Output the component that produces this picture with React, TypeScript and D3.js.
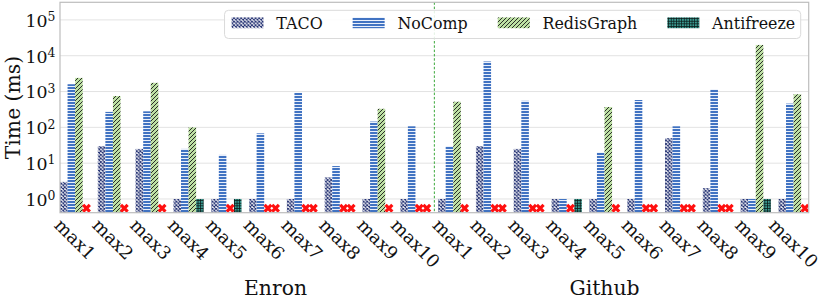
import React, { useEffect, useRef } from 'react';
import * as d3 from 'd3';

const queries = ['max1', 'max2', 'max3', 'max4', 'max5', 'max6', 'max7', 'max8', 'max9', 'max10'];
const datasets = ['Enron', 'Github'];
const systems = ['TACO', 'NoComp', 'RedisGraph', 'Antifreeze'];

const tacoEnron = [3, 30, 25, 1, 1, 1, 1, 4, 1, 1];
const tacoGithub = [1, 30, 25, 1, 1, 1, 50, 2, 1, 1];
const noCompEnron = [1600, 270, 280, 25, 17, 68, 920, 8.3, 145, 107];
const noCompGithub = [30, 6900, 550, 1, 20, 580, 107, 1150, 1, 460];
const redisEnron: (number | null)[] = [2400, 750, 1750, 100, null, null, null, null, 330, null];
const redisGithub: (number | null)[] = [520, null, null, null, 370, null, null, null, 20000, 840];
const antiEnron: (number | null)[] = [null, null, null, 1, 1, null, null, null, null, null];
const antiGithub: (number | null)[] = [null, null, null, 1, null, null, null, null, 1, null];

const yTicks = [1, 10, 100, 1000, 10000, 100000];
const yTickExp = ['0', '1', '2', '3', '4', '5'];
const MISSING_Y = 0.55;
const datasetLabelPos = [5.3, 14.0];

const FONT = "'DejaVu Serif', 'Liberation Serif', serif";

export default function App() {
  const ref = useRef<SVGSVGElement>(null);
  useEffect(() => {
    document.body.style.margin = '0';
    const svg = d3.select(ref.current as SVGSVGElement);
    svg.selectAll('*').remove();

    const probe = svg.append('text').style('font-family', FONT).style('font-size', '16px').text('RedisGraph');
    const pw = (probe.node() as SVGTextElement).getComputedTextLength();
    probe.remove();
    const kRaw = pw > 0 ? 94.4 / pw : 1;
    const k = Math.max(0.9, Math.min(1.2, 1 + (kRaw - 1) * 0.6));

    const left = 60, right = 808.7, top = 2.3, bottom = 212.7;
    const nQ = queries.length;
    const nGroups = datasets.length * nQ;
    const x = d3.scaleLinear().domain([-0.4, nGroups - 0.6]).range([left, right]);
    const y = d3.scaleLog().domain([0.414, 3.1e5]).range([bottom, top]);

    const series = [
      { name: systems[0], values: [...tacoEnron, ...tacoGithub], fill: 'url(#p-taco)' },
      { name: systems[1], values: [...noCompEnron, ...noCompGithub], fill: 'url(#p-nocomp)' },
      { name: systems[2], values: [...redisEnron, ...redisGithub], fill: 'url(#p-redis)' },
      { name: systems[3], values: [...antiEnron, ...antiGithub], fill: 'url(#p-anti)' },
    ];
    const offsets = [-0.3, -0.1, 0.1, 0.3];
    const bw = 0.2;

    const defs = svg.append('defs');
    const pt = defs.append('pattern').attr('id', 'p-taco').attr('patternUnits', 'userSpaceOnUse')
      .attr('width', 3.6).attr('height', 3.6);
    pt.append('rect').attr('width', 3.6).attr('height', 3.6).attr('fill', '#ffffff');
    pt.append('path').attr('d', 'M0,0L3.6,3.6M3.6,0L0,3.6').attr('stroke', '#1c2a6e').attr('stroke-width', 0.95);
    const pn = defs.append('pattern').attr('id', 'p-nocomp').attr('patternUnits', 'userSpaceOnUse')
      .attr('width', 4).attr('height', 3);
    pn.append('rect').attr('width', 4).attr('height', 3).attr('fill', '#4173c2');
    pn.append('rect').attr('y', 2).attr('width', 4).attr('height', 1).attr('fill', '#eaf0fb');
    const pr = defs.append('pattern').attr('id', 'p-redis').attr('patternUnits', 'userSpaceOnUse')
      .attr('width', 4).attr('height', 4);
    pr.append('rect').attr('width', 4).attr('height', 4).attr('fill', '#bde0a4');
    pr.append('path').attr('d', 'M0,4L4,0M-1,1L1,-1M3,5L5,3').attr('stroke', '#1a1a1a').attr('stroke-width', 0.9);
    const pa = defs.append('pattern').attr('id', 'p-anti').attr('patternUnits', 'userSpaceOnUse')
      .attr('width', 2.6).attr('height', 2.6);
    pa.append('rect').attr('width', 2.6).attr('height', 2.6).attr('fill', '#3a9990');
    pa.append('path').attr('d', 'M0.4,0V2.6M0,0.4H2.6').attr('stroke', '#0a1a18').attr('stroke-width', 0.8);

    defs.append('clipPath').attr('id', 'plotclip').append('rect')
      .attr('x', left).attr('y', top).attr('width', right - left).attr('height', bottom - top);

    svg.append('g').selectAll('line').data(yTicks).join('line')
      .attr('x1', left).attr('x2', right).attr('y1', d => y(d)).attr('y2', d => y(d))
      .attr('stroke', '#e3e3e3').attr('stroke-width', 1);

    const barG = svg.append('g').attr('clip-path', 'url(#plotclip)');
    series.forEach((s, si) => {
      const data = s.values.map((v, i) => ({ v, i })).filter(d => d.v !== null) as { v: number; i: number }[];
      barG.append('g').selectAll('rect').data(data).join('rect')
        .attr('x', d => x(d.i + offsets[si] - bw / 2))
        .attr('width', x(bw) - x(0))
        .attr('y', d => y(d.v))
        .attr('height', d => bottom - y(d.v))
        .attr('fill', s.fill);
    });

    const xSym = d3.symbol().type(d3.symbolCross).size(50);
    series.forEach((s, si) => {
      const miss = s.values.map((v, i) => ({ v, i })).filter(d => d.v === null);
      barG.append('g').selectAll('path').data(miss).join('path')
        .attr('d', xSym() as string)
        .attr('transform', d => `translate(${x(d.i + offsets[si])},${y(MISSING_Y)}) rotate(45)`)
        .attr('fill', '#ff1010');
    });

    svg.append('line').attr('x1', x(nQ - 0.5)).attr('x2', x(nQ - 0.5)).attr('y1', top).attr('y2', bottom)
      .attr('stroke', '#3aa83a').attr('stroke-width', 1).attr('stroke-dasharray', '2.5,1.8');

    svg.append('rect').attr('x', left).attr('y', top).attr('width', right - left).attr('height', bottom - top)
      .attr('fill', 'none').attr('stroke', '#bdbdbd').attr('stroke-width', 1.2);

    const yt = svg.append('g').style('font-family', FONT).attr('fill', '#111');
    yTicks.forEach((t, kk) => {
      const txt = yt.append('text').attr('x', 55.5).attr('y', y(t) + 6.8).attr('text-anchor', 'end');
      txt.append('tspan').style('font-size', `${17.5 * k}px`).text('10');
      txt.append('tspan').style('font-size', `${12.5 * k}px`).attr('dy', -5.5).text(yTickExp[kk]);
    });

    const fs = 18 * k;
    const xt = svg.append('g').style('font-family', FONT).style('font-size', `${fs}px`).attr('fill', '#111');
    const c = Math.SQRT1_2;
    const asc = 0.93 * 18, desc = 0.236 * 18;
    const labelTop = 214.5;
    for (let g = 0; g < nGroups; g++) {
      const label = queries[g % nQ];
      const t = xt.append('text').text(label);
      const L = (t.node() as SVGTextElement).getComputedTextLength();
      const x0 = x(g) - (L + asc - desc) * c / 2;
      const y0 = labelTop + asc * c;
      t.attr('transform', `translate(${x0},${y0}) rotate(45)`);
    }

    svg.append('g').style('font-family', FONT).style('font-size', `${20.5 * k}px`).attr('fill', '#111')
      .selectAll('text').data(datasets).join('text')
      .attr('x', (d, i) => x(datasetLabelPos[i])).attr('y', 295).attr('text-anchor', 'middle').text(d => d);

    svg.append('text').style('font-family', FONT).style('font-size', `${20.5 * k}px`).attr('fill', '#111')
      .attr('text-anchor', 'middle').attr('transform', `translate(20,${(top + bottom) / 2}) rotate(-90)`)
      .text('Time (ms)');

    const lfs = 16 * k;
    const lg = svg.append('g').style('font-family', FONT).style('font-size', `${lfs}px`);
    const frame = lg.append('rect');
    const patchW = 32, patchH = 10.8, textPad = 12.8, colSp = 30;
    const padL = 7, padR = 5.5;
    const widths: number[] = [];
    const texts = series.map(s => {
      const t = lg.append('text').text(s.name).attr('fill', '#111');
      widths.push((t.node() as SVGTextElement).getComputedTextLength());
      return t;
    });
    const totalInner = series.reduce((a, _, i) => a + patchW + textPad + widths[i], 0) + colSp * (series.length - 1);
    const legRight = right - 8;
    const legW = totalInner + padL + padR;
    const legLeft = legRight - legW;
    const legTop = top + 8, legH = 28.2;
    frame.attr('x', legLeft).attr('y', legTop).attr('width', legW).attr('height', legH).attr('rx', 4)
      .attr('fill', '#ffffff').attr('fill-opacity', 0.85).attr('stroke', '#dadada').attr('stroke-width', 1);
    let cx = legLeft + padL;
    series.forEach((s, i) => {
      lg.append('rect').attr('x', cx).attr('y', 17.4).attr('width', patchW).attr('height', patchH).attr('fill', s.fill);
      texts[i].attr('x', cx + patchW + textPad).attr('y', 28.8);
      cx += patchW + textPad + widths[i] + colSp;
    });
  }, []);
  return <svg ref={ref} width={830} height={302} style={{ display: 'block' }} />;
}
